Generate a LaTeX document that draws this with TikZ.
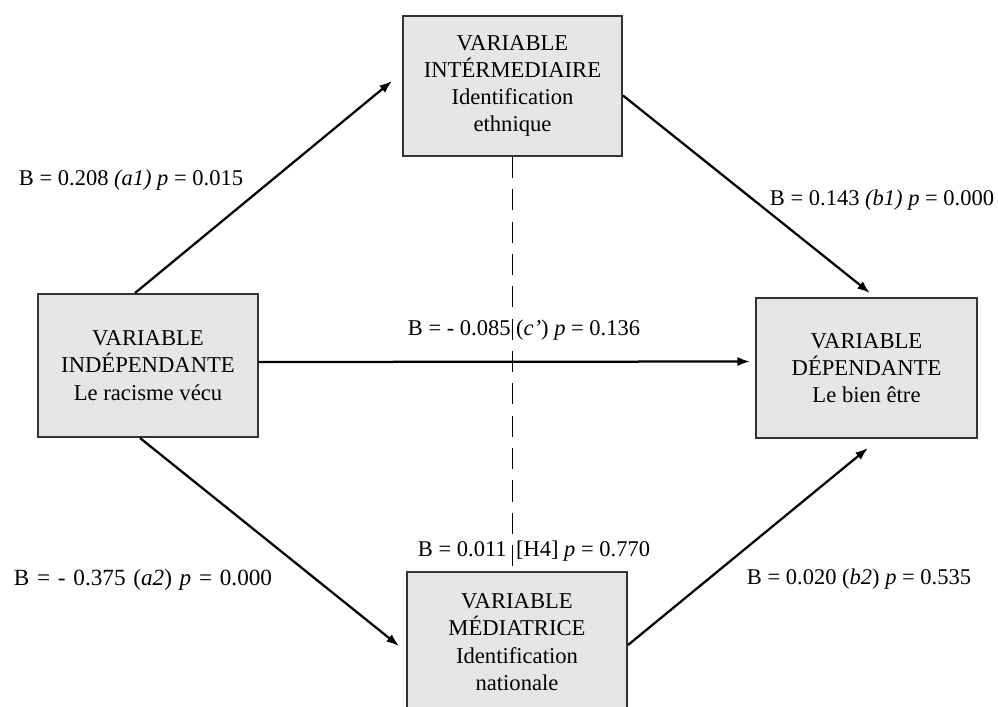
\documentclass[tikz,border=0pt]{standalone}
\usepackage{fontspec}
\setmainfont{Liberation Serif}
\usepackage{tikz}
\usetikzlibrary{arrows.meta}
\usetikzlibrary{calc}
\definecolor{boxgray}{HTML}{E6E6E6}
\definecolor{edgegray}{HTML}{333333}
\tikzset{
	varbox/.style={draw=edgegray,line width=1.4pt,fill=boxgray,align=center,minimum width=219*0.025cm,minimum height=140*0.025cm,inner sep=0pt,font=\fontsize{16.1}{19.4}\selectfont},
	lbl/.style={inner sep=0pt,font=\fontsize{16}{19}\selectfont},
	arr/.style={line width=1.6pt,-{Latex[length=9pt,width=6.5pt]}}
}
\begin{document}
\begin{tikzpicture}[x=0.025cm,y=-0.025cm]
			\useasboundingbox (0,0) rectangle (998,706);
			\clip (0,0) rectangle (998,706);
			\node[varbox] (inter) at (512.5,86) {VARIABLE\\INTÉRMEDIAIRE\\Identification\\ethnique};
			\node[varbox,minimum width=220*0.025cm,minimum height=143*0.025cm] (ind) at (148,365.5) {VARIABLE\\INDÉPENDANTE\\Le racisme vécu};
			\node[varbox,minimum width=221*0.025cm] (dep) at (866.5,368) {VARIABLE\\DÉPENDANTE\\Le bien être};
			\node[varbox,minimum width=220*0.025cm] (med) at (517,642) {VARIABLE\\MÉDIATRICE\\Identification\\nationale};
			\draw[line width=1pt,dash pattern=on 15pt off 8pt] (inter.south) -- (inter.south |- med.north);
			\draw[arr] ($(ind.north)+(-13,0)$) -- ($(inter.west)+(-10,-5)$);
			\draw[arr] ($(inter.east)+(0,9.5)$) -- ($(dep.north)+(3.5,-4)$);
			\draw[arr] ($(ind.east)+(0,-3.5)$) -- ($(dep.west)+(-5,-6.5)$);
			\draw[arr] ($(ind.south)+(-8,0)$) -- ($(med.west)+(-7,4)$);
			\draw[arr] ($(med.east)+(0,3)$) -- ($(dep.south)+(1.5,9)$);
			\node[lbl] (la1) at (131,180) {B = 0.208 \textit{(a1)} \textit{p} = 0.015};
			\node[lbl] (lb1) at (882,200) {B = 0.143 \textit{(b1)} \textit{p} = 0.000};
			\node[lbl] (lc) at (524,330) {B = - 0.085 (\textit{c’}) \textit{p} = 0.136};
			\node[lbl] (lh4) at (534,551) {B = 0.011 \,[H4] \textit{p} = 0.770};
			\node[lbl,font=\fontsize{16.5}{19}\selectfont] (la2) at (143,580) {\spaceskip=5.5pt B = - 0.375 (\textit{a2}) \textit{p} = 0.000};
			\node[lbl] (lb2) at (859,579) {B = 0.020 (\textit{b2}) \textit{p} = 0.535};
		\end{tikzpicture}
\end{document}
